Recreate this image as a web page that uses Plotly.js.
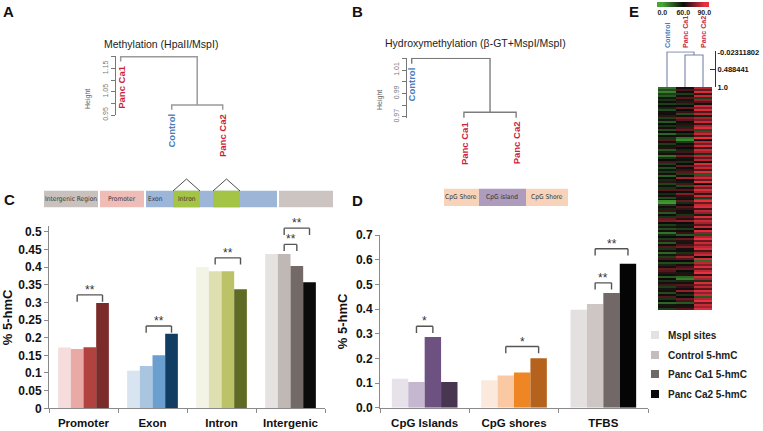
<!DOCTYPE html>
<html><head><meta charset="utf-8">
<script src="https://cdn.plot.ly/plotly-3.0.1.min.js"></script>
<style>html,body{margin:0;padding:0;background:#fff}#chart{width:763px;height:431px}</style>
</head><body><div id="chart"></div>
<script>
// ---------- Panel C data ----------
const regionCats = ['Promoter', 'Exon', 'Intron', 'Intergenic'];
const cMspI    = [0.172, 0.106, 0.400, 0.437];
const cControl = [0.168, 0.120, 0.388, 0.437];
const cCa1     = [0.173, 0.150, 0.388, 0.403];
const cCa2     = [0.298, 0.211, 0.337, 0.357];
// brackets: category index, from bar, to bar, level, label
const cSigCat = [0, 1, 2, 3, 3];
const cSigFrom = [1, 1, 1, 1, 1];
const cSigTo = [3, 3, 3, 2, 3];
const cSigLevel = [0.321, 0.233, 0.426, 0.464, 0.510];
const cSigLabel = ['**', '**', '**', '**', '**'];

// ---------- Panel D data ----------
const cpgCats = ['CpG Islands', 'CpG shores', 'TFBS'];
const dMspI    = [0.117, 0.111, 0.397];
const dControl = [0.104, 0.131, 0.420];
const dCa1     = [0.287, 0.143, 0.465];
const dCa2     = [0.104, 0.200, 0.583];
const dSigCat = [0, 1, 2, 2];
const dSigFrom = [1, 1, 1, 1];
const dSigTo = [2, 3, 2, 3];
const dSigLevel = [0.330, 0.248, 0.506, 0.644];
const dSigLabel = ['*', '*', '**', '**'];

const seriesNames = ['MspI sites', 'Control 5-hmC', 'Panc Ca1 5-hmC', 'Panc Ca2 5-hmC'];

// ---------- Dendrograms (leaf order, merges [a,b,height]; negative = leaf) ----------
const dendALeaves = ['Panc Ca1', 'Control', 'Panc Ca2'];
const dendAMerge = [[-2, -3, 0.993], [-1, 1, 1.200]];
const dendATicks = [0.95, 1.00, 1.05, 1.10, 1.15, 1.20];
const dendATickText = ['0.95', '', '1.05', '', '1.15', ''];

const dendBLeaves = ['Control', 'Panc Ca1', 'Panc Ca2'];
const dendBMerge = [[-2, -3, 0.9738], [-1, 1, 1.020]];
const dendBTicks = [0.97, 0.98, 0.99, 1.00, 1.01, 1.02];
const dendBTickText = ['0.97', '', '0.99', '', '1.01', ''];

// ---------- Panel E heatmap ----------
const heatCols = ['Control', 'Panc Ca1', 'Panc Ca2'];
const heatMerge = [[-2, -3, 0.065], [-1, 1, -0.02311802]];
const heatScaleTicks = [-0.02311802, 0.488441, 1.0];
const heatScaleText = ['-0.02311802', '0.488441', '1.0'];
const heatControl = [20,35,15,40,30,55,45,58,40,60,50,35,62,58,65,40,55,30,60,45,62,35,60,25,58,45,70,62,40,55,64,30,50,62,20,45,60,68,40,58,35,55,42,62,28,60,48,65,38,56,44,70,60,48,62,35,58,10,5,40,62,50,66,30,58,45,72,75,60,40,55,35,62,20,48,60,42,65,30,58,70,45,62,25,55,40,68,60,35,50,62,72,70,65,58,30,60,45,62,68,40,55,62,35,58,70,45,60,25,55,62,40];
const heatCa1 = [62,68,58,40,62,70,55,65,45,60,72,60,66,35,62,75,70,58,64,50,68,72,60,45,62,20,10,40,58,66,60,50,68,62,74,55,62,45,60,72,58,66,70,40,62,80,60,55,68,35,62,70,58,76,65,55,62,72,48,60,70,66,58,62,45,70,64,78,60,52,62,40,58,66,30,60,72,64,55,68,74,62,58,45,66,80,70,60,35,62,68,72,60,55,64,25,15,48,62,70,66,58,78,62,45,60,72,68,30,62,55,70];
const heatCa2 = [82,72,88,66,85,40,78,70,62,86,76,88,70,84,52,80,74,86,66,82,88,35,78,85,70,90,58,84,74,88,68,86,80,45,84,72,84,62,88,76,85,70,88,30,78,86,72,90,60,84,74,88,80,66,86,40,82,90,72,85,88,68,84,78,52,88,72,86,80,70,86,62,88,78,35,82,90,72,86,76,84,88,68,80,86,58,88,22,84,76,88,72,84,90,66,86,80,45,88,74,84,70,88,78,86,30,82,90,72,86,80,88];
// colour key of the heatmap (key cells and their labels)
const heatKeyValues = [0, 60, 90];
const heatKeyText = ['0.0', '60.0', '90.0'];

// ---------- styles ----------
const cColors = [
  ['#f6dcdc', '#d8e4ef', '#f3f3e6', '#e6e2e2'],
  ['#e9aaa6', '#a9c5e0', '#dfe0b1', '#c0b8b5'],
  ['#b2423f', '#6a9fd0', '#bcc267', '#736a68'],
  ['#7b2b29', '#123d63', '#5f6b24', '#0b0b0b']
];
const dColors = [
  ['#e7e2ea', '#fce9de', '#e4e0e0'],
  ['#c5b7d0', '#fac9a3', '#cdc6c5'],
  ['#6c5181', '#ee8623', '#716867'],
  ['#48354f', '#b5621d', '#050505']
];
const legendColors = ['#e4e1e1', '#c3bebc', '#6f6866', '#0a0a0a'];
const HEAT_SCALE = [[0, '#45a536'], [0.6667, '#0b0b0b'], [1, '#e8303f']];
const RED = '#cc1f3d', BLUE = '#4a7dbd';
const FONT = 'Arial, "Liberation Sans", Helvetica, sans-serif';
const NARROW = '"Liberation Sans Narrow", "Arial Narrow", "DejaVu Sans Condensed", sans-serif';
const BARGAP = 0.265;

const W = 763, H = 431;
const X = p => p / W;
const Y = p => 1 - p / H;

const traces = [];
const shapes = [];
const annotations = [];

// ---------- bar traces ----------
const cSeries = [cMspI, cControl, cCa1, cCa2];
const dSeries = [dMspI, dControl, dCa1, dCa2];
cSeries.forEach((vals, i) => traces.push({
  type: 'bar', x: regionCats, y: vals, name: seriesNames[i], xaxis: 'x', yaxis: 'y',
  marker: {color: cColors[i], line: {width: 0}}, showlegend: false
}));
dSeries.forEach((vals, i) => traces.push({
  type: 'bar', x: cpgCats, y: vals, name: seriesNames[i], xaxis: 'x2', yaxis: 'y2',
  marker: {color: dColors[i], line: {width: 0}}, showlegend: false
}));

function addBrackets(cats, from, to, level, labels, legLen, xa, ya) {
  const w = (1 - BARGAP) / 4;
  for (let i = 0; i < cats.length; i++) {
    const x1 = cats[i] + (from[i] - 1.5) * w;
    const x2 = cats[i] + (to[i] - 1.5) * w;
    const ln = {color: '#555', width: 1.4};
    shapes.push({type: 'line', xref: xa, yref: ya, x0: x1, x1: x1, y0: level[i] - legLen, y1: level[i], line: ln});
    shapes.push({type: 'line', xref: xa, yref: ya, x0: x1, x1: x2, y0: level[i], y1: level[i], line: ln});
    shapes.push({type: 'line', xref: xa, yref: ya, x0: x2, x1: x2, y0: level[i] - legLen, y1: level[i], line: ln});
    annotations.push({xref: xa, yref: ya, x: (x1 + x2) / 2, y: level[i], text: labels[i], showarrow: false,
      yanchor: 'bottom', yshift: -4, font: {family: FONT, size: 12, color: '#333'}});
  }
}
addBrackets(cSigCat, cSigFrom, cSigTo, cSigLevel, cSigLabel, 0.019, 'x', 'y');
addBrackets(dSigCat, dSigFrom, dSigTo, dSigLevel, dSigLabel, 0.027, 'x2', 'y2');

// ---------- dendrograms ----------
function dendro(leaves, merge, xa, ya, color, width, leafBase) {
  const hs = merge.map(m => m[2]);
  const hang = 0.1 * (Math.max(...hs) - Math.min(...hs));
  const nodeX = [], leafBottom = {};
  const cx = c => c < 0 ? (-c) : nodeX[c - 1];
  merge.forEach((m, k) => {
    const h = m[2];
    const xs = [], ys = [];
    [m[0], m[1]].forEach(c => {
      let yb;
      if (c < 0) {
        yb = leafBase !== undefined ? leafBase : h - hang;
        leafBottom[-c] = yb;
      } else yb = merge[c - 1][2];
      xs.push(cx(c)); ys.push(yb);
    });
    nodeX[k] = (xs[0] + xs[1]) / 2;
    traces.push({type: 'scatter', mode: 'lines', xaxis: xa, yaxis: ya, showlegend: false, hoverinfo: 'skip',
      x: [xs[0], xs[0], xs[1], xs[1]], y: [ys[0], h, h, ys[1]],
      line: {color: color, width: width}});
  });
  return leafBottom;
}
const lbA = dendro(dendALeaves, dendAMerge, 'x3', 'y3', '#9a9a9a', 1.5);
const lbB = dendro(dendBLeaves, dendBMerge, 'x4', 'y4', '#7d7d7d', 1.4);
dendro(heatCols, heatMerge, 'x6', 'y6', '#7483a8', 1.1, 1.0);

function leafLabels(leaves, lb, xa, ya) {
  leaves.forEach((name, i) => annotations.push({
    xref: xa, yref: ya, x: i + 1, y: lb[i + 1], text: name, showarrow: false, textangle: -90,
    xanchor: 'center', yanchor: 'top', yshift: -2,
    font: {family: FONT, size: 9.5, weight: 'bold', color: name === 'Control' ? BLUE : RED}
  }));
}
leafLabels(dendALeaves, lbA, 'x3', 'y3');
leafLabels(dendBLeaves, lbB, 'x4', 'y4');

// E column labels
heatCols.forEach((name, i) => annotations.push({
  xref: 'x6', yref: 'paper', x: i + 1, y: Y(50), text: name, showarrow: false, textangle: -90,
  xanchor: 'center', yanchor: 'bottom',
  font: {family: FONT, size: 7.2, weight: 'bold', color: name === 'Control' ? BLUE : RED}
}));

// ---------- heatmap ----------
const nRows = Math.min(heatControl.length, heatCa1.length, heatCa2.length);
const zRows = [];
for (let r = 0; r < nRows; r++) zRows.push([heatControl[r], heatCa1[r], heatCa2[r]]);
traces.push({
  type: 'heatmap', z: zRows, x: heatCols, xaxis: 'x5', yaxis: 'y5', zmin: 0, zmax: 90,
  colorscale: HEAT_SCALE, hoverinfo: 'skip', showscale: false
});
// colour key strip above the heatmap
traces.push({
  type: 'heatmap', z: [heatKeyValues], x: heatKeyValues.map((v, i) => i), xaxis: 'x7', yaxis: 'y7',
  zmin: 0, zmax: 90, zsmooth: 'best', colorscale: HEAT_SCALE, hoverinfo: 'skip', showscale: false
});

// ---------- decorations: gene structure diagrams ----------
function rect(x0, x1, y0, y1, color) {
  shapes.push({type: 'rect', xref: 'paper', yref: 'paper', x0: X(x0), x1: X(x1), y0: Y(y1), y1: Y(y0),
    fillcolor: color, line: {width: 0}, layer: 'below'});
}
function label(x, y, text, opts) {
  annotations.push(Object.assign({xref: 'paper', yref: 'paper', x: X(x), y: Y(y), text: text, showarrow: false,
    xanchor: 'center', yanchor: 'middle'}, opts));
}
rect(44, 98, 190.7, 207.3, '#c9c1bd');
rect(100, 144, 190.7, 207.3, '#efbdb7');
rect(146, 277, 190.7, 207.3, '#9db6d8');
rect(173, 200, 190.7, 207.3, '#a3c444');
rect(213, 240, 190.7, 207.3, '#a3c444');
rect(279, 333, 190.7, 207.3, '#cbc4c1');
[[173, 186.5, 200], [213, 226.5, 240]].forEach(t => shapes.push({type: 'path', xref: 'paper', yref: 'paper',
  path: `M${X(t[0])},${Y(191)} L${X(t[1])},${Y(179)} L${X(t[2])},${Y(191)}`, line: {color: '#222', width: 0.8}}));
const smallFont = {family: NARROW, size: 6.6, color: '#333'};
label(71, 199, 'Intergenic Region', {font: smallFont});
label(122, 199, 'Promoter', {font: smallFont});
label(155, 199, 'Exon', {font: smallFont});
label(187, 199, 'Intron', {font: smallFont});
rect(444, 479, 188.7, 206, '#f9d3b9');
rect(479, 526, 188.7, 206, '#ad9cbe');
rect(526, 568, 188.7, 206, '#f9d3b9');
label(461, 197, 'CpG Shore', {font: smallFont});
label(502, 197, 'CpG island', {font: smallFont});
label(547, 197, 'CpG Shore', {font: smallFont});

// panel letters & titles
const letterFont = {family: FONT, size: 15, weight: 'bold', color: '#111'};
label(8.5, 11.5, 'A', {font: letterFont});
label(357, 11.5, 'B', {font: letterFont});
label(9, 199.5, 'C', {font: letterFont});
label(357, 200, 'D', {font: letterFont});
label(634, 11.5, 'E', {font: letterFont});
label(161, 44, 'Methylation (HpaII/MspI)', {font: {family: FONT, size: 10.5, color: '#222'}});
label(475.5, 43, 'Hydroxymethylation (β-GT+MspI/MspI)', {font: {family: FONT, size: 10.5, color: '#222'}});
label(88, 99, 'Height', {textangle: -90, font: {family: FONT, size: 7, color: '#666'}});
label(380, 100, 'Height', {textangle: -90, font: {family: FONT, size: 7, color: '#666'}});

// custom legend
const legY = [335, 355, 374, 394];
seriesNames.forEach((name, i) => {
  shapes.push({type: 'rect', xref: 'paper', yref: 'paper', x0: X(651), x1: X(659), y0: Y(legY[i] + 4), y1: Y(legY[i] - 4),
    fillcolor: legendColors[i], line: {width: 0}});
  annotations.push({xref: 'paper', yref: 'paper', x: X(666), y: Y(legY[i]), text: name, showarrow: false,
    xanchor: 'left', yanchor: 'middle', font: {family: FONT, size: 10, weight: 'bold', color: '#222'}});
});

// ---------- axes ----------
const axLine = '#8a8a8a';
const barX = (dom) => ({domain: dom, type: 'category', showline: true, linecolor: axLine, linewidth: 1,
  ticks: 'outside', tickson: 'boundaries', ticklen: 4, tickcolor: axLine, showgrid: false, zeroline: false,
  ticklabelstandoff: 4,
  tickfont: {family: FONT, size: 11.5, weight: 'bold', color: '#111'}, fixedrange: true});

const layout = {
  width: W, height: H, margin: {l: 0, r: 0, t: 0, b: 0},
  paper_bgcolor: '#fff', plot_bgcolor: 'rgba(0,0,0,0)',
  barmode: 'group', bargap: BARGAP, bargroupgap: 0, showlegend: false,
  font: {family: FONT},
  xaxis: Object.assign(barX([X(49), X(325)]), {anchor: 'y', range: [-0.5, 3.5]}),
  yaxis: {domain: [Y(408.3), Y(226.4)], anchor: 'x', range: [0, 0.515], dtick: 0.05, tick0: 0,
    showline: true, linecolor: axLine, ticks: 'outside', ticklen: 4, tickcolor: axLine, showgrid: false, zeroline: false,
    tickfont: {family: FONT, size: 12, weight: 'bold', color: '#111'},
    title: {text: '% 5-hmC', standoff: 9, font: {family: FONT, size: 13, weight: 'bold', color: '#111'}}},
  xaxis2: Object.assign(barX([X(380), X(648)]), {anchor: 'y2', range: [-0.5, 2.5]}),
  yaxis2: {domain: [Y(407.7), Y(235)], anchor: 'x2', range: [0, 0.7], dtick: 0.1, tick0: 0, tickformat: '.1f',
    showline: true, linecolor: axLine, ticks: 'outside', ticklen: 4, tickcolor: axLine, showgrid: false, zeroline: false,
    tickfont: {family: FONT, size: 12, weight: 'bold', color: '#111'},
    title: {text: '% 5-hmC', standoff: 5, font: {family: FONT, size: 13, weight: 'bold', color: '#111'}}},
  xaxis3: {domain: [X(116), X(238)], anchor: 'y3', range: [0.908, 3.3], visible: false},
  yaxis3: {domain: [Y(115), Y(55.6)], anchor: 'x3', range: [0.95, 1.205], showline: true, linecolor: '#777',
    ticks: 'outside', ticklen: 4, tickcolor: '#777', tickvals: dendATicks, ticktext: dendATickText, tickangle: -90,
    showgrid: false, zeroline: false, tickfont: {family: FONT, size: 7, color: '#777'}},
  xaxis4: {domain: [X(407), X(531.8)], anchor: 'y4', range: [0.91, 3.3], visible: false},
  yaxis4: {domain: [Y(117.9), Y(57.8)], anchor: 'x4', range: [0.969, 1.0205], showline: true, linecolor: '#777',
    ticks: 'outside', ticklen: 4, tickcolor: '#777', tickvals: dendBTicks, ticktext: dendBTickText, tickangle: -90,
    showgrid: false, zeroline: false, tickfont: {family: FONT, size: 7, color: '#777'}},
  xaxis5: {domain: [X(658), X(712)], anchor: 'y5', visible: false},
  yaxis5: {domain: [Y(310), Y(87)], anchor: 'x5', visible: false, autorange: 'reversed'},
  xaxis6: {domain: [X(658), X(715)], anchor: 'y6', range: [0.5, 3.667], visible: false},
  yaxis6: {domain: [Y(87), Y(51.3)], anchor: 'x6', side: 'right', range: [1.0, -0.045], showline: true,
    linecolor: '#333', ticks: 'inside', ticklen: 5, tickcolor: '#333', tickvals: heatScaleTicks, ticktext: heatScaleText,
    showgrid: false, zeroline: false, tickfont: {family: FONT, size: 7.5, weight: 'bold', color: '#111'}},
  xaxis7: {domain: [X(657), X(709.5)], anchor: 'y7', range: [-0.25, 2.25], showline: false, showgrid: false,
    zeroline: false, ticks: '', tickvals: [0, 1, 2], ticktext: heatKeyText, ticklabelstandoff: 0,
    tickfont: {family: FONT, size: 7, weight: 'bold', color: '#222'}},
  yaxis7: {domain: [Y(7), Y(2)], anchor: 'x7', visible: false},
  shapes: shapes,
  annotations: annotations
};

Plotly.newPlot('chart', traces, layout, {staticPlot: true, displayModeBar: false});
</script>
</body></html>
